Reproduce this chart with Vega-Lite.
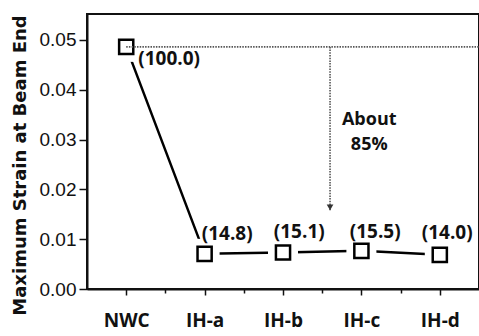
{
  "$schema": "https://vega.github.io/schema/vega-lite/v6.json",
  "width": 392,
  "height": 275,
  "autosize": {"type": "none"},
  "padding": {"left": 87, "top": 14, "right": 0, "bottom": 47},
  "background": "white",
  "view": {"stroke": "#111", "strokeWidth": 2},
  "datasets": {
    "main": [
      {"idx": 0, "specimen": "NWC", "strain": 0.0486, "label": "(100.0)"},
      {"idx": 1, "specimen": "IH-a", "strain": 0.00706, "label": "(14.8)"},
      {"idx": 2, "specimen": "IH-b", "strain": 0.00732, "label": "(15.1)"},
      {"idx": 3, "specimen": "IH-c", "strain": 0.00766, "label": "(15.5)"},
      {"idx": 4, "specimen": "IH-d", "strain": 0.00686, "label": "(14.0)"}
    ],
    "labels": [
      {"lx": 0.548, "ly": 0.0461, "label": "(100.0)"},
      {"lx": 1.288, "ly": 0.0110, "label": "(14.8)"},
      {"lx": 2.207, "ly": 0.0114, "label": "(15.1)"},
      {"lx": 3.176, "ly": 0.0115, "label": "(15.5)"},
      {"lx": 4.094, "ly": 0.0112, "label": "(14.0)"}
    ],
    "hline": [{"x": 0, "x2": 4.5, "y": 0.0486}],
    "vline": [{"x": 2.6, "y": 0.0486, "y2": 0.0158}],
    "arrow": [{"x": 2.6, "y": 0.0164}],
    "note": [
      {"x": 3.1, "y": 0.0340, "text": "About"},
      {"x": 3.1, "y": 0.0289, "text": "85%"}
    ]
  },
  "layer": [
    {
      "data": {"name": "main"},
      "mark": {"type": "line", "color": "black", "strokeWidth": 2.5},
      "encoding": {
        "x": {
          "field": "idx",
          "type": "quantitative",
          "scale": {"domain": [-0.5, 4.5], "nice": false, "zero": false},
          "axis": {
            "title": null,
            "grid": false,
            "values": [0, 0.5, 1, 1.5, 2, 2.5, 3, 3.5, 4],
            "labelExpr": "datum.value % 1 === 0 ? ['NWC','IH-a','IH-b','IH-c','IH-d'][datum.value] : ''",
            "labelFlush": false,
            "labelFont": "Open Sans",
            "labelFontWeight": "bold",
            "labelFontSize": 19,
            "labelColor": "#111",
            "labelPadding": 16,
            "domainColor": "#111",
            "domainWidth": 2,
            "tickColor": "#111",
            "tickWidth": 1.5,
            "tickSize": {"condition": {"test": "datum.value % 1 === 0", "value": 6}, "value": 4}
          }
        },
        "y": {
          "field": "strain",
          "type": "quantitative",
          "scale": {"domain": [0, 0.0552], "nice": false},
          "axis": {
            "title": "Maximum Strain at Beam End",
            "titleFont": "DejaVu Sans",
            "titleFontWeight": "bold",
            "titleFontSize": 18,
            "titleColor": "#111",
            "titleAngle": -90,
            "titleAlign": "center",
            "titleBaseline": "alphabetic",
            "titleX": -62,
            "titleY": 151,
            "grid": false,
            "values": [0, 0.005, 0.01, 0.015, 0.02, 0.025, 0.03, 0.035, 0.04, 0.045, 0.05],
            "labelExpr": "abs(datum.value*100 - round(datum.value*100)) < 0.001 ? format(datum.value, '.2f') : ''",
            "labelFont": "Liberation Sans",
            "labelFontSize": 19,
            "labelColor": "#111",
            "labelPadding": 3,
            "domainColor": "#111",
            "domainWidth": 2,
            "tickColor": "#111",
            "tickWidth": 1.5,
            "tickSize": {"condition": {"test": "abs(datum.value*100 - round(datum.value*100)) < 0.001", "value": 8}, "value": 4}
          }
        }
      }
    },
    {
      "data": {"name": "main"},
      "mark": {"type": "point", "shape": "square", "size": 900, "filled": true, "color": "white", "opacity": 1},
      "encoding": {
        "x": {"field": "idx", "type": "quantitative"},
        "y": {"field": "strain", "type": "quantitative"}
      }
    },
    {
      "data": {"name": "main"},
      "mark": {"type": "point", "shape": "square", "size": 200, "filled": false, "fill": "white", "fillOpacity": 1, "stroke": "black", "strokeWidth": 2.5, "opacity": 1},
      "encoding": {
        "x": {"field": "idx", "type": "quantitative"},
        "y": {"field": "strain", "type": "quantitative"}
      }
    },
    {
      "data": {"name": "hline"},
      "mark": {"type": "rule", "color": "#555", "strokeWidth": 1.6, "strokeDash": [1.5, 1.2]},
      "encoding": {
        "x": {"field": "x", "type": "quantitative"},
        "x2": {"field": "x2"},
        "y": {"field": "y", "type": "quantitative"}
      }
    },
    {
      "data": {"name": "vline"},
      "mark": {"type": "rule", "color": "#555", "strokeWidth": 1.6, "strokeDash": [1.5, 1.2]},
      "encoding": {
        "x": {"field": "x", "type": "quantitative"},
        "y": {"field": "y", "type": "quantitative"},
        "y2": {"field": "y2"}
      }
    },
    {
      "data": {"name": "arrow"},
      "mark": {"type": "point", "shape": "triangle-down", "size": 45, "filled": true, "color": "#333", "opacity": 1},
      "encoding": {
        "x": {"field": "x", "type": "quantitative"},
        "y": {"field": "y", "type": "quantitative"}
      }
    },
    {
      "data": {"name": "labels"},
      "mark": {"type": "text", "font": "Open Sans", "fontWeight": "bold", "fontSize": 19, "color": "#111", "align": "center", "baseline": "middle"},
      "encoding": {
        "x": {"field": "lx", "type": "quantitative"},
        "y": {"field": "ly", "type": "quantitative"},
        "text": {"field": "label"}
      }
    },
    {
      "data": {"name": "note"},
      "mark": {"type": "text", "font": "Open Sans", "fontWeight": "bold", "fontSize": 18, "color": "#111", "align": "center", "baseline": "middle"},
      "encoding": {
        "x": {"field": "x", "type": "quantitative"},
        "y": {"field": "y", "type": "quantitative"},
        "text": {"field": "text"}
      }
    }
  ]
}
